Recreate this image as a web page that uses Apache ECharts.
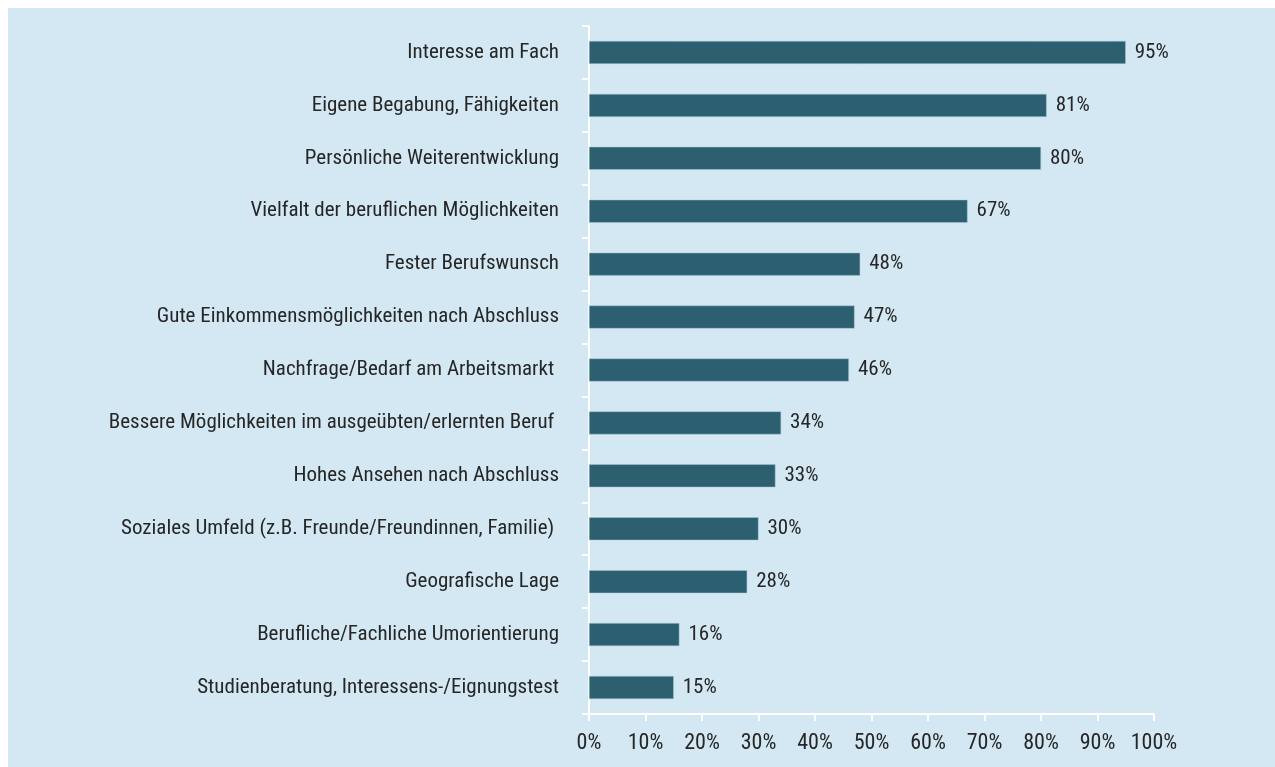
<!DOCTYPE html>
<html>
<head>
<meta charset="utf-8">
<script src="https://cdn.jsdelivr.net/npm/echarts@6/dist/echarts.min.js"></script>
<style>
	html, body {margin: 0; padding: 0; background: #fff;}
	#container {position: absolute; left: 8px; top: 8px; width: 1267px; height: 759px;}
</style>
</head>
<body>
<div id="container"></div>
<script>
const Categories = [
	'Interesse am Fach',
	'Eigene Begabung, Fähigkeiten',
	'Persönliche Weiterentwicklung',
	'Vielfalt der beruflichen Möglichkeiten',
	'Fester Berufswunsch',
	'Gute Einkommensmöglichkeiten nach Abschluss',
	'Nachfrage/Bedarf am Arbeitsmarkt ',
	'Bessere Möglichkeiten im ausgeübten/erlernten Beruf ',
	'Hohes Ansehen nach Abschluss',
	'Soziales Umfeld (z.B. Freunde/Freundinnen, Familie) ',
	'Geografische Lage',
	'Berufliche/Fachliche Umorientierung',
	'Studienberatung, Interessens-/Eignungstest'
];
const Values = [95, 81, 80, 67, 48, 47, 46, 34, 33, 30, 28, 16, 15];
const XTicks = [0, 10, 20, 30, 40, 50, 60, 70, 80, 90, 100];

const Font = '"Roboto Condensed", "Liberation Sans Narrow", sans-serif';

const option = {
	backgroundColor: '#d3e8f3',
	textStyle: {fontFamily: Font},
	grid: {
		left: 581, right: 121, top: 18, bottom: 53
	}, xAxis: {
		type: 'value', min: XTicks[0], max: XTicks[XTicks.length - 1], interval: 10,
		axisLine: {show: true, lineStyle: {color: '#ffffff', width: 2}},
		axisTick: {show: true, length: 7, lineStyle: {color: '#ffffff', width: 2}},
		splitLine: {show: false},
		axisLabel: {
			formatter: '{value}%', color: '#262626', fontSize: 22, margin: 18, fontFamily: Font
		}
	}, yAxis: {
		type: 'category', inverse: true, data: Categories,
		axisLine: {show: true, lineStyle: {color: '#ffffff', width: 2}},
		axisTick: {show: true, length: 7, alignWithLabel: false, lineStyle: {color: '#ffffff', width: 2}},
		axisLabel: {color: '#262626', fontSize: 21, margin: 30, fontFamily: Font}
	}, series: [{
		type: 'bar', data: Values, barWidth: 23,
		itemStyle: {color: '#2c5f6f', borderColor: '#a9c9d6', borderWidth: 0.5},
		label: {
			show: true, position: 'right', distance: 9, formatter: '{c}%',
			color: '#262626', fontSize: 21, fontFamily: Font
		}
	}]
};
echarts.init(document.getElementById('container')).setOption(option);
</script>
</body>
</html>
